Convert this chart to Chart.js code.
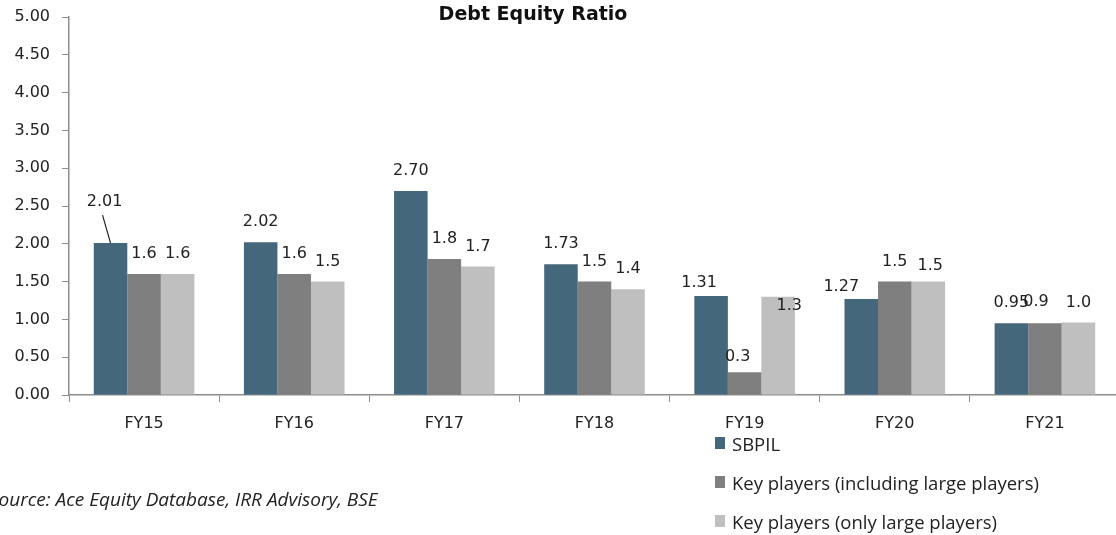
<!DOCTYPE html>
<html>
<head>
<meta charset="utf-8">
<script src="https://cdn.jsdelivr.net/npm/chart.js@4.4.1/dist/chart.umd.min.js"></script>
<style>
html,body{margin:0;padding:0;background:#fff;overflow:hidden;}
#wrap{position:relative;width:1120px;height:535px;}
#legend{position:absolute;left:715px;top:431px;font-family:"Open Sans",sans-serif;font-size:18.5px;color:#222;}
#legend .row{display:flex;align-items:center;height:24px;margin-bottom:15px;}
#legend .box{width:10px;height:12px;margin-right:7px;}
#source{position:absolute;left:-11px;top:486px;font-family:"Open Sans",sans-serif;font-style:italic;font-size:19px;color:#222;}
</style>
</head>
<body>
<div id="wrap">
<canvas id="grafico"></canvas>
<div id="legend"></div>
<div id="source">Source: Ace Equity Database, IRR Advisory, BSE</div>
</div>
<script>
const anos = ["FY15","FY16","FY17","FY18","FY19","FY20","FY21"];
const sbpil = [2.01,2.02,2.70,1.73,1.31,1.27,0.95];
const incluindoGrandes = [1.6,1.6,1.8,1.5,0.3,1.5,0.95];
const soGrandes = [1.6,1.5,1.7,1.4,1.3,1.5,0.96];
const nomes = ["SBPIL","Key players (including large players)","Key players (only large players)"];
const cores = ["#44677c","#7f7f7f","#bfbfbf"];
const casas = [2,1,1];

// label nudges (dx, dy from default spot above the bar)
const ajustes = {
  "0-0":[-6,-21],
  "0-4":[-12,7],
  "1-4":[-7,5],
  "2-4":[11,29],
  "0-5":[-20,8],
  "2-5":[2,4],
  "1-6":[-9,-1]
};

const fonte = "DejaVu Sans";

const rotulos = {
  id:"rotulos",
  afterDatasetsDraw(chart){
    const ctx = chart.ctx;
    ctx.save();
    ctx.font = "16px '"+fonte+"'";
    ctx.fillStyle = "#222";
    ctx.textAlign = "center";
    ctx.textBaseline = "middle";
    chart.data.datasets.forEach((ds,d)=>{
      chart.getDatasetMeta(d).data.forEach((bar,i)=>{
        const a = ajustes[d+"-"+i] || [0,0];
        const x = bar.x + a[0];
        const y = bar.y - 20 + a[1];
        ctx.fillText(ds.data[i].toFixed(casas[d]), x, y);
        if(d===0 && i===0){
          ctx.strokeStyle = "#222";
          ctx.lineWidth = 1.2;
          ctx.beginPath();
          ctx.moveTo(x-2, y+13);
          ctx.lineTo(bar.x, bar.y);
          ctx.stroke();
        }
      });
    });
    // title
    ctx.font = "bold 19px '"+fonte+"'";
    ctx.fillStyle = "#111";
    ctx.fillText("Debt Equity Ratio", 533, 15);
    ctx.restore();
  }
};

new Chart(document.getElementById("grafico"),{
  type:"bar",
  data:{
    labels:anos,
    datasets:[sbpil,incluindoGrandes,soGrandes].map((v,k)=>({
      label:nomes[k],
      data:v,
      backgroundColor:cores[k],
      categoryPercentage:0.67,
      barPercentage:1.0
    }))
  },
  options:{
    responsive:true,
    maintainAspectRatio:false,
    animation:false,
    layout:{padding:{top:17,left:0,right:0,bottom:0}},
    plugins:{
      legend:{display:false},
      tooltip:{enabled:false}
    },
    scales:{
      x:{
        afterFit(s){s.height=140;s.paddingLeft=0;s.paddingRight=0;},
        grid:{display:true,drawOnChartArea:false,tickLength:7,color:"#8c8c8c",offset:true},
        border:{color:"#8c8c8c",width:1.5},
        ticks:{color:"#222",padding:12,font:{family:fonte,size:16}}
      },
      y:{
        min:0,
        max:5,
        afterFit(s){s.width=69;s.paddingTop=0;s.paddingBottom=0;},
        grid:{display:true,drawOnChartArea:false,tickLength:7,color:"#8c8c8c"},
        border:{color:"#8c8c8c",width:1.5},
        ticks:{
          stepSize:0.5,
          color:"#222",
          padding:12,
          font:{family:fonte,size:16},
          callback:v=>Number(v).toFixed(2)
        }
      }
    }
  },
  plugins:[rotulos]
});

const leg = document.getElementById("legend");
nomes.forEach((n,k)=>{
  const row = document.createElement("div");
  row.className = "row";
  row.innerHTML = '<span class="box" style="background:'+cores[k]+'"></span><span>'+n+'</span>';
  leg.appendChild(row);
});
</script>
</body>
</html>
